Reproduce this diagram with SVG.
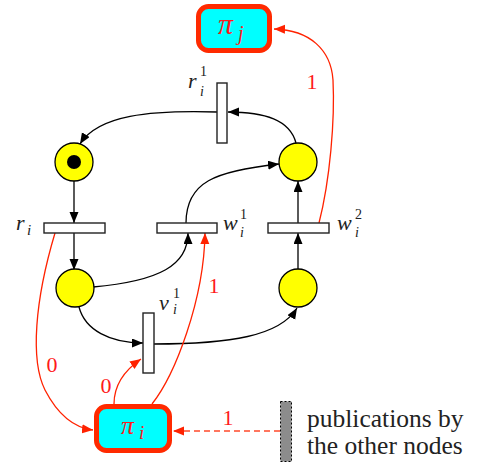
<svg xmlns="http://www.w3.org/2000/svg" width="478" height="463" viewBox="0 0 478 463">
<style>
.place{fill:#ffff00;stroke:#000;stroke-width:1.3}
.trans{fill:#fff;stroke:#222;stroke-width:1.4}
.proc{fill:#00ffff;stroke:#ff2a00;stroke-width:5}
.arc{fill:none;stroke:#000;stroke-width:1.3}
.rarc{fill:none;stroke:#ff2200;stroke-width:1.3}
text{font-family:'Liberation Serif','DejaVu Serif','Times New Roman',serif}
.math{font-style:italic;fill:#222}
.sup{font-style:normal;fill:#222}
.rlab{fill:#ff1a1a;font-size:22px}
.ptxt{font-style:italic;fill:#ff1a1a}
.txt{font-size:25.5px;fill:#222}
</style>
<defs>
<marker id="ab" markerUnits="userSpaceOnUse" markerWidth="12" markerHeight="10" refX="11" refY="4.5" orient="auto"><path d="M0,0 L11,4.5 L0,9 z" fill="#000"/></marker>
<marker id="ar" markerUnits="userSpaceOnUse" markerWidth="12" markerHeight="10" refX="11" refY="4.5" orient="auto"><path d="M0,0 L11,4.5 L0,9 z" fill="#ff2200"/></marker>
</defs>

<g id="connectors">
<path class="arc" d="M217,112 C150,110 98,115 80,144" marker-end="url(#ab)"/>
<path class="arc" d="M296,143 C290,120 265,112 228,112" marker-end="url(#ab)"/>
<path class="arc" d="M74,181 L74,223" marker-end="url(#ab)"/>
<path class="arc" d="M74,233 L74,270" marker-end="url(#ab)"/>
<path class="arc" d="M93,287 C160,281 188,265 188,233" marker-end="url(#ab)"/>
<path class="arc" d="M186,223 C186,182 215,171 279,164" marker-end="url(#ab)"/>
<path class="arc" d="M298,223 L298,181" marker-end="url(#ab)"/>
<path class="arc" d="M298,270 L298,233" marker-end="url(#ab)"/>
<path class="arc" d="M79,307 C85,330 110,343 143,343" marker-end="url(#ab)"/>
<path class="arc" d="M154,344 C230,344 280,336 297,308" marker-end="url(#ab)"/>
<path class="rarc" d="M319,223 C330,180 335,120 333,80 C331,50 310,30 274,29" marker-end="url(#ar)"/>
<path class="rarc" d="M55,233 C35,300 30,360 45,390 C58,415 75,428 93,430" marker-end="url(#ar)"/>
<path class="rarc" d="M114,404 C114,385 125,370 141,359" marker-end="url(#ar)"/>
<path class="rarc" d="M152,404 C175,375 204,300 205,233" marker-end="url(#ar)"/>
<path d="M280,431 L173,431" fill="none" stroke="#ff4a2a" stroke-width="1.4" stroke-dasharray="6,4" marker-end="url(#ar)"/>
<text class="rlab" x="312" y="89" text-anchor="middle">1</text>
<text class="rlab" x="214" y="293" text-anchor="middle">1</text>
<text class="rlab" x="52" y="372" text-anchor="middle">0</text>
<text class="rlab" x="106" y="393" text-anchor="middle">0</text>
<text class="rlab" x="228" y="425" text-anchor="middle">1</text>
</g>

<g id="pi_j">
<rect class="proc" x="198.5" y="6.5" width="71" height="44" rx="10"/>
<text class="ptxt" x="218" y="34" font-size="30">π</text>
<text class="ptxt" x="238" y="40" font-size="20">j</text>
</g>

<g id="pi_i">
<rect class="proc" x="96.5" y="406.5" width="73" height="44" rx="10"/>
<text class="ptxt" x="121" y="434" font-size="26">π</text>
<text class="ptxt" x="139" y="439" font-size="19">i</text>
</g>

<g id="r_i1">
<rect class="trans" x="217" y="83" width="10" height="60"/>
<text class="math" x="188" y="88" font-size="22">r</text>
<text class="sup" x="200" y="76" font-size="14">1</text>
<text class="math" x="200" y="96" font-size="14">i</text>
</g>

<g id="p_top_left">
<circle class="place" cx="74" cy="162" r="19"/>
<circle cx="74" cy="162" r="7" fill="#000"/>
</g>

<g id="p_top_right">
<circle class="place" cx="298" cy="162" r="19"/>
</g>

<g id="r_i">
<rect class="trans" x="44" y="223" width="61" height="10"/>
<text class="math" x="16" y="230" font-size="22">r</text>
<text class="math" x="27" y="235" font-size="15">i</text>
</g>

<g id="w_i1">
<rect class="trans" x="157" y="223" width="60" height="10"/>
<text class="math" x="223" y="230" font-size="22">w</text>
<text class="sup" x="240" y="219" font-size="14">1</text>
<text class="math" x="240" y="237" font-size="14">i</text>
</g>

<g id="w_i2">
<rect class="trans" x="268" y="223" width="61" height="10"/>
<text class="math" x="337" y="230" font-size="22">w</text>
<text class="sup" x="355" y="219" font-size="14">2</text>
<text class="math" x="355" y="237" font-size="14">i</text>
</g>

<g id="p_mid_left">
<circle class="place" cx="75" cy="288" r="19"/>
</g>

<g id="p_mid_right">
<circle class="place" cx="298" cy="288" r="19"/>
</g>

<g id="v_i1">
<rect class="trans" x="143" y="313" width="11" height="60"/>
<text class="math" x="159" y="310" font-size="22">v</text>
<text class="sup" x="173" y="298" font-size="14">1</text>
<text class="math" x="173" y="314" font-size="14">i</text>
</g>

<g id="publications">
<rect x="280.5" y="401.5" width="11" height="60" fill="#8c8c8c" stroke="#000" stroke-width="1" stroke-dasharray="2,2"/>
<text class="txt" x="307" y="427">publications by</text>
<text class="txt" x="307" y="454">the other nodes</text>
</g>
</svg>
